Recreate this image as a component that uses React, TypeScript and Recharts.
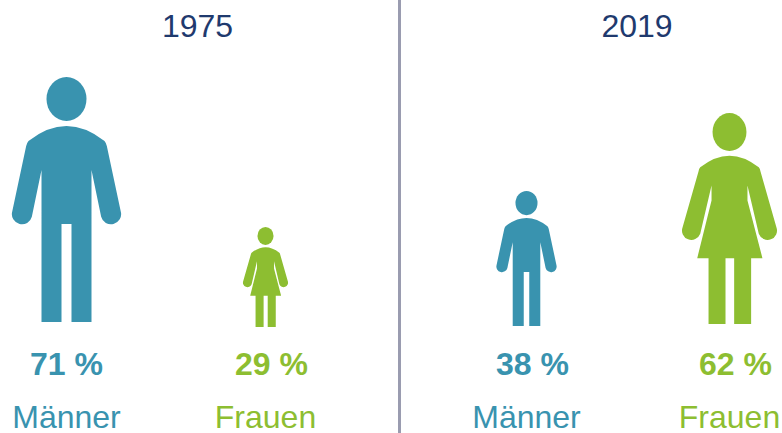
import { BarChart, Bar, XAxis, YAxis } from "recharts";

const categories = ["Männer", "Frauen"];
const years = ["1975", "2019"];
const shares1975 = [71, 29];
const shares2019 = [38, 62];

const BLUE = "#3993AF";
const GREEN = "#8DBE31";
const NAVY = "#1F3A6E";
const FONT = "'Liberation Sans', Arial, sans-serif";

// px per percent point comes from the y axis: 325px of plot for a domain of 94.2
const PLOT_BOTTOM = 325;
const Y_MAX = 94.2;

const MAN_H = 735;
const MAN_HEAD = { cy: 66, rx: 60, ry: 66 };
const MAN_BODY =
  "M-114 192Q0 102 114 192Q119 198 121 207L163 404A30 30 0 0 1 104 419L75 279L75 735L15 735L15 441L-15 441L-15 735L-75 735L-75 279L-104 419A30 30 0 0 1 -163 404L-121 207Q-119 198 -114 192Z";

const WOMAN_H = 634;
const WOMAN_HEAD = { cy: 57, rx: 51, ry: 57 };
const WOMAN_BODY =
  "M-88 163Q0 93 88 163Q92 168 93 175L141 343A27 27 0 0 1 88 363L54 218L54 263L99 436L65 436L65 634L14 634L14 436L-12 436L-12 634L-63 634L-63 436L-97 436L-54 263L-54 218L-88 363A27 27 0 0 1 -141 343L-93 175Q-92 168 -88 163Z";

// the source figures don't sit on one exact baseline
const panels = [
  { year: years[0], shares: shares1975, left: -33.5, width: 398, titleX: 197, lift: [3, -2], grow: [0, 0], pctShift: [0, 6] },
  { year: years[1], shares: shares2019, left: 424.5, width: 406, titleX: 636.5, lift: [-1, 1], grow: [4, -3], pctShift: [6, 6] },
];

function Figure(props: any) {
  const { x, y, width, height, index, lift, grow } = props;
  const isMan = props.payload.name === categories[0];
  const cx = x + width / 2;
  const h = height + grow[index];
  const top = y + height - h - lift[index];
  const unit = isMan ? MAN_H : WOMAN_H;
  const head = isMan ? MAN_HEAD : WOMAN_HEAD;
  const color = isMan ? BLUE : GREEN;
  return (
    <g transform={`translate(${cx} ${top}) scale(${h / unit})`} fill={color}>
      <ellipse cx={0} cy={head.cy} rx={head.rx} ry={head.ry} />
      <path d={isMan ? MAN_BODY : WOMAN_BODY} />
    </g>
  );
}

function Tick(props: any) {
  const { x, payload, shares, pctShift } = props;
  const i = categories.indexOf(payload.value);
  const color = i === 0 ? BLUE : GREEN;
  return (
    <g fontFamily={FONT} fontSize={32} textAnchor="middle" fill={color}>
      <text x={x + pctShift[i]} y={375} fontWeight={700}>{`${shares[i]} %`}</text>
      <text x={x} y={428}>{payload.value}</text>
    </g>
  );
}

function Panel({ year, shares, left, width, titleX, lift, grow, pctShift }: any) {
  const data = categories.map((name, i) => ({ name, share: shares[i] }));
  return (
    <div style={{ position: "absolute", left, top: 0 }}>
      <BarChart
        width={width}
        height={433}
        data={data}
        margin={{ top: 0, right: 0, bottom: 0, left: 0 }}
        barCategoryGap={0}
      >
        <XAxis
          dataKey="name"
          height={433 - PLOT_BOTTOM}
          axisLine={false}
          tickLine={false}
          interval={0}
          tick={<Tick shares={shares} pctShift={pctShift} />}
        />
        <YAxis hide domain={[0, Y_MAX]} />
        <Bar
          dataKey="share"
          isAnimationActive={false}
          shape={(p: any) => <Figure {...p} lift={lift} grow={grow} />}
        />
        <text x={titleX - left} y={37} textAnchor="middle" fontFamily={FONT} fontSize={32} fill={NAVY}>
          {year}
        </text>
      </BarChart>
    </div>
  );
}

export default function App() {
  return (
    <div style={{ position: "absolute", left: 0, top: 0, width: 782, height: 433, overflow: "hidden", background: "#fff" }}>
      {panels.map((p) => (
        <Panel key={p.year} {...p} />
      ))}
      <div style={{ position: "absolute", left: 398, top: 0, width: 3, height: 433, background: "#9A9CB0" }} />
    </div>
  );
}
